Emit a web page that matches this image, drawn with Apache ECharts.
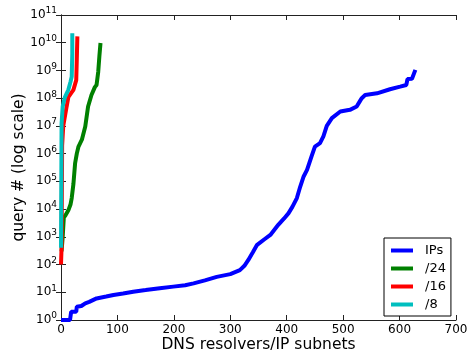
<!DOCTYPE html>
<html>
<head>
<meta charset="utf-8">
<script src="https://cdn.jsdelivr.net/npm/echarts@6/dist/echarts.min.js"></script>
<style>
  html, body { margin: 0; padding: 0; background: #fff; }
  #chart { width: 469px; height: 352px; }
</style>
</head>
<body>
<div id="chart"></div>
<script>
// [resolver/subnet rank, query count]
const ipsData = [
  [0, 1], [16, 1], [18, 2], [27, 2], [28, 3], [36, 3.2], [43, 4], [50, 4.5], [63, 6],
  [80, 7], [93, 8], [110, 9], [128, 10.5], [150, 12], [175, 14], [199, 16], [220, 18],
  [235, 21], [255, 27], [276, 36], [300, 45], [317, 63], [325, 90], [332, 147],
  [340, 280], [347, 500], [360, 800], [371, 1170], [385, 2700], [395, 4500],
  [403, 7000], [410, 12000], [418, 25000], [424, 65000], [430, 150000], [436, 260000],
  [444, 8e5], [450, 1.8e6], [459, 2.4e6], [465, 4.2e6], [471, 1e7], [480, 1.9e7],
  [495, 3.3e7], [512, 3.8e7], [524, 5e7], [530, 8e7], [533, 1e8], [539, 1.3e8],
  [560, 1.5e8], [583, 2.1e8], [601, 2.6e8], [612, 3e8], [614, 4.9e8], [622, 5e8],
  [628, 1.05e9]
];
const slash24Data = [
  [1, 300], [3, 1000], [5, 5000], [8, 6000], [13, 9000], [17, 15000], [19, 25000],
  [22, 80000], [25, 4.5e5], [28, 1e6], [31, 1.8e6], [37, 3.2e6], [43, 9.5e6],
  [48, 5e7], [54, 1.3e8], [60, 2.5e8], [63, 3e8], [66, 9e8], [68, 3.2e9], [70, 9.8e9]
];
const slash16Data = [
  [0, 100], [1, 400], [2, 2e6], [4, 1e7], [10, 5e7], [13, 1.1e8], [22, 2e8],
  [27, 4.5e8], [28, 2.5e9], [29, 1.7e10]
];
const slash8Data = [
  [0, 400], [1, 1.2e7], [3, 5e7], [7, 1.1e8], [13, 2e8], [17, 4e8], [19, 6e8],
  [20, 4e9], [20, 2.2e10]
];
const seriesNames = ["IPs", "/24", "/16", "/8"];
const seriesColors = ["#0000ff", "#008000", "#ff0000", "#00bfbf"];

const font = "DejaVu Sans";
const chart = echarts.init(document.getElementById("chart"));

const axisLine = { show: true, lineStyle: { color: "#222", width: 1 } };
const tick = { show: true, inside: true, length: 5, lineStyle: { color: "#222" } };

const option = {
  animation: false,
  grid: { left: 61, right: 13, top: 15, bottom: 32, outerBoundsMode: "none" },
  legend: {
    orient: "vertical",
    left: 384,
    top: 238,
    data: seriesNames,
    icon: "rect",
    itemWidth: 22,
    itemHeight: 4,
    itemGap: 5,
    padding: [6, 5, 5, 7],
    borderColor: "#000",
    borderWidth: 1,
    backgroundColor: "#fff",
    textStyle: { fontFamily: font, fontSize: 13, color: "#000", lineHeight: 13, padding: [0, 0, 0, 7] }
  },
  xAxis: [
    {
      type: "value", min: 0, max: 700, interval: 100,
      name: "DNS resolvers/IP subnets", nameLocation: "middle", nameGap: 17,
      nameMoveOverlap: false,
      nameTextStyle: { fontFamily: font, fontSize: 15.5, color: "#000" },
      axisLine, axisTick: tick, splitLine: { show: false },
      axisLabel: { fontFamily: font, fontSize: 12, color: "#000", margin: 4 }
    },
    {
      type: "value", position: "top", min: 0, max: 700, interval: 100,
      axisLine, axisTick: tick, splitLine: { show: false }, axisLabel: { show: false }
    }
  ],
  yAxis: [
    {
      type: "log", logBase: 10, min: 1, max: 1e11, interval: 1,
      name: "query # (log scale)", nameLocation: "middle", nameGap: 34,
      nameMoveOverlap: false,
      nameTextStyle: { fontFamily: font, fontSize: 15.5, color: "#000" },
      axisLine, axisTick: tick, splitLine: { show: false }, minorTick: { show: false },
      axisLabel: {
        margin: 4,
        formatter: function (v) {
          return "{b|10}{s|" + Math.round(Math.log10(v)) + "}";
        },
        rich: {
          b: { fontFamily: font, fontSize: 12, color: "#000" },
          s: { fontFamily: font, fontSize: 9, color: "#000", padding: [0, 0, 8, 0] }
        }
      }
    },
    {
      type: "log", logBase: 10, min: 1, max: 1e11, interval: 1, position: "right",
      axisLine, axisTick: tick, splitLine: { show: false }, axisLabel: { show: false }
    }
  ],
  series: [ipsData, slash24Data, slash16Data, slash8Data].map(function (d, i) {
    return {
      name: seriesNames[i],
      type: "line",
      data: d,
      showSymbol: false,
      symbol: "none",
      color: seriesColors[i],
      lineStyle: { width: 4, color: seriesColors[i] },
      z: 2 + i
    };
  })
};
chart.setOption(option);
</script>
</body>
</html>
